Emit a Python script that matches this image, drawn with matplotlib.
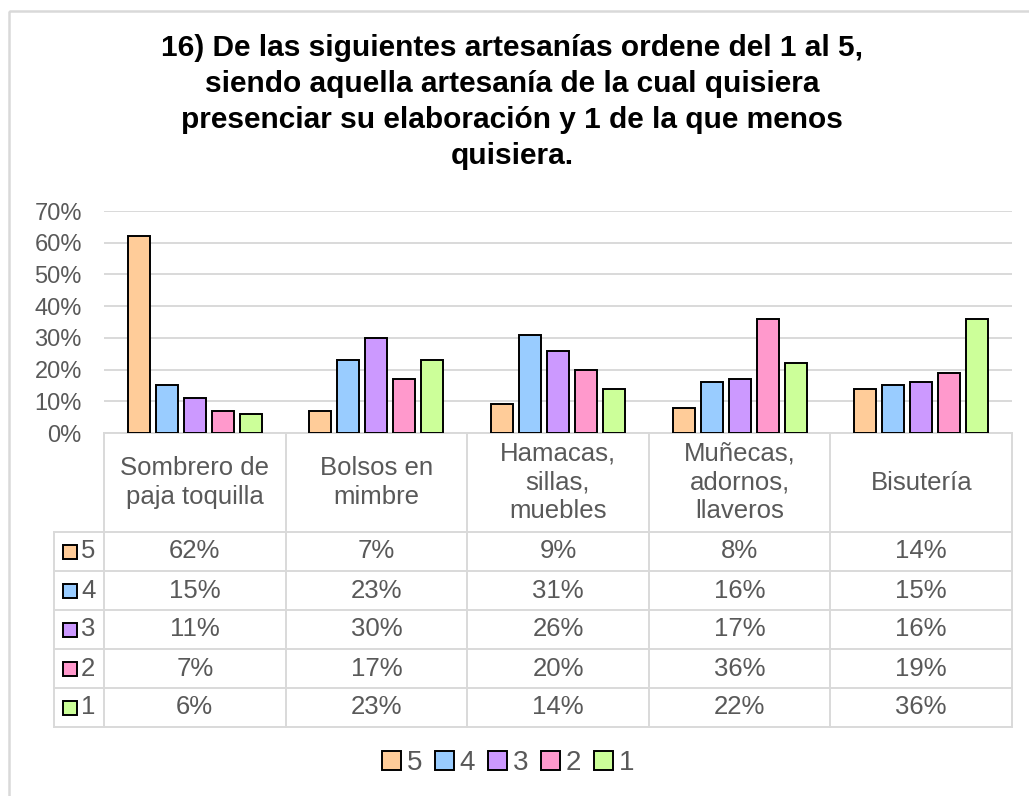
import numpy as np
import matplotlib.pyplot as plt
from matplotlib.patches import Rectangle

plt.rcParams['font.family'] = ['Liberation Sans', 'DejaVu Sans']

title = ("16) De las siguientes artesanías ordene del 1 al 5,\n"
         "siendo aquella artesanía de la cual quisiera\n"
         "presenciar su elaboración y 1 de la que menos\n"
         "quisiera.")
categories = ["Sombrero de\npaja toquilla", "Bolsos en\nmimbre", "Hamacas,\nsillas,\nmuebles",
              "Muñecas,\nadornos,\nllaveros", "Bisutería"]
series = ["5", "4", "3", "2", "1"]
values = [
    [62, 7, 9, 8, 14],
    [15, 23, 31, 16, 15],
    [11, 30, 26, 17, 16],
    [7, 17, 20, 36, 19],
    [6, 23, 14, 22, 36],
]
colors = ["#FFCC99", "#99CCFF", "#CC99FF", "#FF99CC", "#CCFF99"]
yticks = [0, 10, 20, 30, 40, 50, 60, 70]

W, H = 1029, 796
grid_c = "#D9D9D9"
txt_c = "#595959"

# pixel layout of the plot area and the data table
left, right = 104, 1012
y0, y70 = 433, 211
key_left = 54
head_bottom = 532
row_h = 39

fig = plt.figure(figsize=(W / 100, H / 100), dpi=100)

# overlay in pixel coordinates for the frame, title and table
ov = fig.add_axes([0, 0, 1, 1], zorder=0)
ov.set_xlim(0, W)
ov.set_ylim(H, 0)
ov.axis("off")

ax = fig.add_axes([left / W, 1 - y0 / H, (right - left) / W, (y0 - y70) / H], zorder=1)
ax.patch.set_alpha(0)

n = len(categories)
x = np.arange(n)
step = 28 / ((right - left) / n)
width = 22 / ((right - left) / n)
handles = []
for i, (s, vals) in enumerate(zip(series, values)):
    b = ax.bar(x + (i - 2) * step, vals, width, color=colors[i], edgecolor="black",
               linewidth=1.4, zorder=3, label=s)
    handles.append(b)

ax.set_xlim(-0.5, n - 0.5)
ax.set_ylim(0, 70)
ax.set_yticks(yticks)
ax.set_yticklabels([f"{t}%" for t in yticks], fontsize=17, color=txt_c)
ax.tick_params(axis="y", length=0, pad=16)
ax.set_xticks([])
ax.yaxis.grid(True, color=grid_c, linewidth=1.4, zorder=0)
for sp in ax.spines.values():
    sp.set_visible(False)

# outer chart border
ov.add_patch(Rectangle((9, 11), W, H, fill=False, edgecolor=grid_c, linewidth=1.8))

ov.text(512, 102, title, ha="center", va="center", fontsize=21.5, fontweight="bold",
        color="black", linespacing=1.36)

# data table below the plot
col_w = (right - left) / n
bottom = head_bottom + row_h * len(series)
lk = dict(color=grid_c, linewidth=1.4)
ov.plot([left, right], [y0, y0], **lk)
for k in range(len(series) + 1):
    yy = head_bottom + k * row_h
    ov.plot([key_left, right], [yy, yy], **lk)
ov.plot([key_left, key_left], [head_bottom, bottom], **lk)
for j in range(n + 1):
    xx = left + j * col_w
    ov.plot([xx, xx], [y0, bottom], **lk)

for j, cat in enumerate(categories):
    ov.text(left + (j + 0.5) * col_w, (y0 + head_bottom) / 2, cat, ha="center", va="center",
            fontsize=18.5, color=txt_c, linespacing=1.25)

for i, (s, vals) in enumerate(zip(series, values)):
    yc = head_bottom + (i + 0.5) * row_h
    ov.add_patch(Rectangle((63, yc - 7), 14, 14, facecolor=colors[i], edgecolor="black",
                           linewidth=1.4))
    ov.text(81, yc, s, ha="left", va="center", fontsize=18.5, color=txt_c)
    for j, v in enumerate(vals):
        ov.text(left + (j + 0.5) * col_w, yc, f"{v}%", ha="center", va="center",
                fontsize=18.5, color=txt_c)

fig.legend(handles=handles, loc="center", bbox_to_anchor=(508 / W, 1 - 763 / H), ncol=5,
           frameon=False, fontsize=20, labelcolor=txt_c, handlelength=0.7,
           handleheight=0.7, handletextpad=0.2, columnspacing=0.45)

fig.savefig("out.png", dpi=100)
